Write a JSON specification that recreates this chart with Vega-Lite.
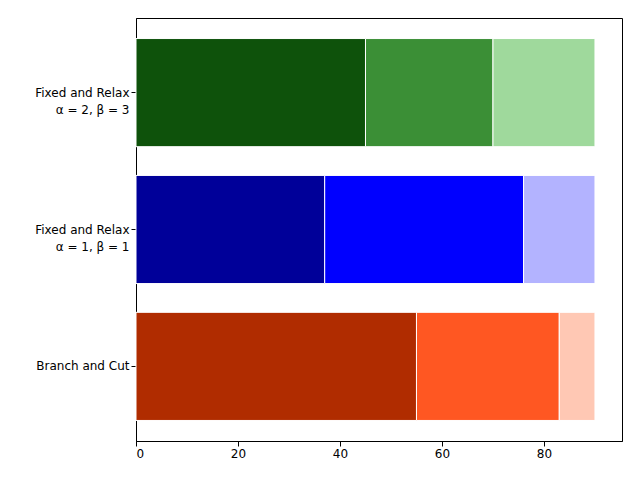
{
  "$schema": "https://vega.github.io/schema/vega-lite/v6.json",
  "width": 486,
  "height": 423,
  "autosize": "none",
  "padding": {"left": 136, "top": 18, "right": 18, "bottom": 39},
  "config": {
    "view": {"stroke": "black", "strokeWidth": 1},
    "font": "DejaVu Sans",
    "axis": {"labelFont": "DejaVu Sans", "labelFontSize": 12, "labelColor": "black", "domainColor": "black", "tickColor": "black", "grid": false, "title": null}
  },
  "data": {
    "values": [
      {"method": "Branch and Cut", "part": "a", "start": 0, "end": 55, "color": "#b02c00"},
      {"method": "Branch and Cut", "part": "b", "start": 55, "end": 83, "color": "#ff5722"},
      {"method": "Branch and Cut", "part": "c", "start": 83, "end": 90, "color": "#ffc8b4"},
      {"method": "Fixed and Relax|α = 1, β = 1", "part": "a", "start": 0, "end": 37, "color": "#000099"},
      {"method": "Fixed and Relax|α = 1, β = 1", "part": "b", "start": 37, "end": 76, "color": "#0000ff"},
      {"method": "Fixed and Relax|α = 1, β = 1", "part": "c", "start": 76, "end": 90, "color": "#b3b3ff"},
      {"method": "Fixed and Relax|α = 2, β = 3", "part": "a", "start": 0, "end": 45, "color": "#0e520b"},
      {"method": "Fixed and Relax|α = 2, β = 3", "part": "b", "start": 45, "end": 70, "color": "#3b8f36"},
      {"method": "Fixed and Relax|α = 2, β = 3", "part": "c", "start": 70, "end": 90, "color": "#9fd99c"}
    ]
  },
  "mark": {"type": "bar", "stroke": "white", "strokeWidth": 1},
  "encoding": {
    "y": {
      "field": "method", "type": "nominal",
      "sort": ["Fixed and Relax|α = 2, β = 3", "Fixed and Relax|α = 1, β = 1", "Branch and Cut"],
      "scale": {"paddingInner": 0.21, "paddingOuter": 0.15},
      "axis": {"labelExpr": "split(datum.label, '|')", "labelLineHeight": 17, "labelAlign": "right"}
    },
    "x": {
      "field": "start", "type": "quantitative",
      "scale": {"domain": [0, 95.3], "nice": false},
      "axis": {"values": [0, 20, 40, 60, 80]}
    },
    "x2": {"field": "end"},
    "color": {"field": "color", "type": "nominal", "scale": null}
  }
}
